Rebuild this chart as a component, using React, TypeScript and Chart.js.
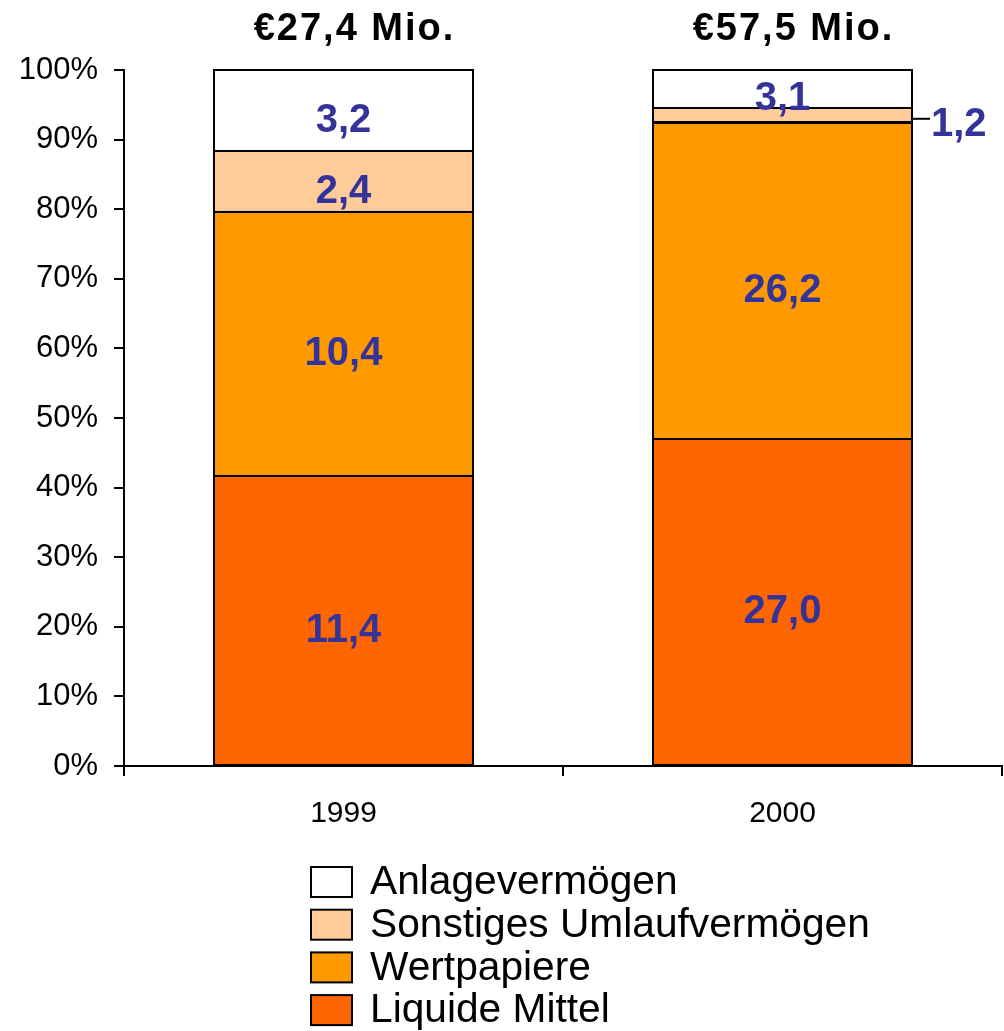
import { useEffect, useRef } from "react";
import { Chart, registerables } from "chart.js";

Chart.register(...registerables);

const categories = ["1999", "2000"];
const totalLabels = ["€27,4 Mio.", "€57,5 Mio."];
const seriesNames = ["Liquide Mittel", "Wertpapiere", "Sonstiges Umlaufvermögen", "Anlagevermögen"];
const liquideMittel = [11.4, 27.0];
const wertpapiere = [10.4, 26.2];
const sonstigesUmlauf = [2.4, 1.2];
const anlagevermoegen = [3.2, 3.1];
const seriesColors = ["#FF6600", "#FF9900", "#FFCC99", "#FFFFFF"];
const yTickStep = 10;

const FONT = '"Liberation Sans", Arial, Helvetica, sans-serif';
const LABEL_COLOR = "#333399";

const seriesValues = [liquideMittel, wertpapiere, sonstigesUmlauf, anlagevermoegen];
const columnTotals = categories.map((_, i) => seriesValues.reduce((s, arr) => s + arr[i], 0));

const fmt = (v: number) => v.toFixed(1).replace(".", ",");

const overlayPlugin = {
  id: "overlay",
  afterDatasetsDraw(chart: any) {
    const ctx = chart.ctx as CanvasRenderingContext2D;
    ctx.save();
    // bar outlines (single shared lines between segments)
    chart.data.datasets.forEach((_ds: any, di: number) => {
      const meta = chart.getDatasetMeta(di);
      meta.data.forEach((bar: any) => {
        const { x, y, base, width } = bar.getProps(["x", "y", "base", "width"], true);
        ctx.strokeStyle = "#000";
        ctx.lineWidth = 2;
        ctx.strokeRect(Math.round(x - width / 2), Math.round(y), Math.round(width), Math.round(base - y));
      });
    });
    // value labels
    chart.data.datasets.forEach((ds: any, di: number) => {
      const meta = chart.getDatasetMeta(di);
      meta.data.forEach((bar: any, i: number) => {
        const { x, y, base, width } = bar.getProps(["x", "y", "base", "width"], true);
        const h = Math.abs(base - y);
        const text = fmt(ds.rawValues[i]);
        ctx.font = `bold 40px ${FONT}`;
        ctx.fillStyle = LABEL_COLOR;
        ctx.textBaseline = "middle";
        const cy = (y + base) / 2;
        if (h < 20) {
          const right = Math.round(x + width / 2);
          const ly = cy + 4;
          ctx.strokeStyle = "#000";
          ctx.lineWidth = 2;
          ctx.beginPath();
          ctx.moveTo(right, ly);
          ctx.lineTo(right + 18, ly);
          ctx.stroke();
          ctx.textAlign = "left";
          ctx.fillText(text, right + 19, ly + 6);
        } else {
          ctx.textAlign = "center";
          ctx.fillText(text, x, cy + 10);
        }
      });
    });
    // totals above bars
    const topMeta = chart.getDatasetMeta(chart.data.datasets.length - 1);
    topMeta.data.forEach((bar: any, i: number) => {
      ctx.font = `bold 38px ${FONT}`;
      (ctx as any).letterSpacing = "2px";
      ctx.fillStyle = "#000";
      ctx.textAlign = "center";
      ctx.textBaseline = "middle";
      ctx.fillText(totalLabels[i], bar.x + 11, 30);
      (ctx as any).letterSpacing = "0px";
    });
    // legend (reverse order, top item = top series)
    const n = chart.data.datasets.length;
    for (let k = 0; k < n; k++) {
      const ds = chart.data.datasets[n - 1 - k];
      const cy = 882 + k * 42.7;
      ctx.fillStyle = ds.backgroundColor;
      ctx.fillRect(311, cy - 15, 41, 30);
      ctx.strokeStyle = "#000";
      ctx.lineWidth = 2;
      ctx.strokeRect(311, cy - 15, 41, 30);
      ctx.fillStyle = "#000";
      ctx.font = `40.7px ${FONT}`;
      ctx.textAlign = "left";
      ctx.textBaseline = "middle";
      ctx.fillText(ds.label, 370, cy + 1);
    }
    ctx.restore();
  },
};

export default function App() {
  const ref = useRef<HTMLCanvasElement | null>(null);
  useEffect(() => {
    document.body.style.margin = "0";
    const canvas = ref.current;
    if (!canvas) return;
    const datasets = seriesValues.map((vals, si) => ({
      label: seriesNames[si],
      data: vals.map((v, i) => (v / columnTotals[i]) * 100),
      rawValues: vals,
      backgroundColor: seriesColors[si],
      borderWidth: 0,
      categoryPercentage: 1,
      barPercentage: 0.59,
    }));
    const chart = new Chart(canvas, {
      type: "bar",
      data: { labels: categories, datasets: datasets as any },
      options: {
        responsive: false,
        animation: false,
        layout: { padding: { top: 70, right: 2, left: 0, bottom: 0 } },
        plugins: { legend: { display: false }, tooltip: { enabled: false } },
        scales: {
          x: {
            stacked: true,
            grid: {
              display: true,
              drawOnChartArea: false,
              drawTicks: true,
              tickLength: 10,
              color: "#000",
              lineWidth: 2,
              offset: true,
            },
            border: { display: true, color: "#000", width: 2 },
            ticks: {
              color: "#000",
              font: { family: FONT, size: 30 },
              padding: 20,
              maxRotation: 0,
            },
            afterFit: (scale: any) => {
              scale.height = 265;
            },
          },
          y: {
            stacked: true,
            min: 0,
            max: 100,
            grid: {
              display: true,
              drawOnChartArea: false,
              drawTicks: true,
              tickLength: 10,
              color: "#000",
              lineWidth: 2,
            },
            border: { display: true, color: "#000", width: 2 },
            ticks: {
              stepSize: yTickStep,
              color: "#000",
              font: { family: FONT, size: 31 },
              padding: 16,
              callback: (v: any) => `${v}%`,
            },
            afterFit: (scale: any) => {
              scale.width = 124;
            },
          },
        },
      },
      plugins: [overlayPlugin],
    });
    return () => chart.destroy();
  }, []);
  return <canvas ref={ref} width={1004} height={1031} style={{ display: "block" }} />;
}
